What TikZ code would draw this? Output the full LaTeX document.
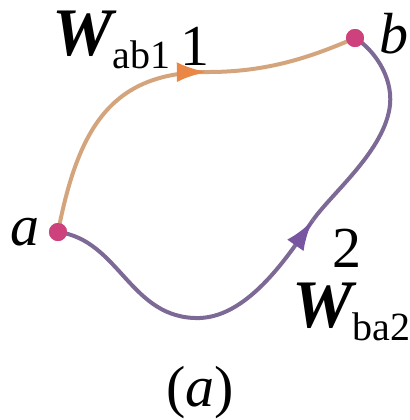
\documentclass[tikz,border=0pt]{standalone}
\usepackage{fontspec}
\setmainfont{Liberation Serif}
\usetikzlibrary{arrows.meta,decorations.markings}
\definecolor{orangeline}{RGB}{212,165,125}
\definecolor{orangetip}{RGB}{235,135,70}
\definecolor{purpleline}{RGB}{125,105,150}
\definecolor{purpletip}{RGB}{120,85,160}
\definecolor{dotcol}{RGB}{205,65,125}
\tikzset{
  pathone/.style={draw=orangeline, line width=2pt},
  pathtwo/.style={draw=purpleline, line width=2pt},
  endtip/.style={postaction={decorate}, decoration={markings,
      mark=at position 0.995 with {\arrow{Latex[length=15pt,width=10pt,color=#1,fill=#1]}}}},
  pointdot/.style={circle, fill=dotcol, minimum size=9pt, inner sep=0pt},
  lbl/.style={inner sep=0pt, font=\fontsize{29}{30}\selectfont},
  wlbl/.style={inner sep=0pt, font=\fontsize{34}{35}\selectfont\bfseries\itshape},
}
\newcommand{\subtxt}[1]{{\fontsize{20}{20}\selectfont\mdseries\upshape\raisebox{-6.5pt}{#1}}}
\begin{document}
\begin{tikzpicture}[x=0.5pt,y=-0.5pt]
\useasboundingbox (0,0) rectangle (410,420);
\coordinate (m1) at (208,72);
\coordinate (m2) at (313,220);
\coordinate (q2) at (390,105);
\coordinate (p2) at (200,318);
\node[pointdot] (a) at (58,232) {};
\node[pointdot] (b) at (355,38) {};
% path 1
\draw[pathone,endtip=orangetip] (a.center) .. controls (78,130) and (110,72) .. (m1);
\draw[pathone] (m1) .. controls (262,72) and (305,60) .. (b.center);
% path 2
\draw[pathtwo] (a.center) .. controls (120,240) and (130,320) .. (p2);
\draw[pathtwo,endtip=purpletip] (p2) .. controls (250,316) and (290,253) .. (m2);
\draw[pathtwo] (m2) .. controls (333,192) and (385,150) .. (q2);
\draw[pathtwo] (q2) .. controls (393,75) and (372,48) .. (b.center);
% points on top
\node[pointdot] at (a) {};
\node[pointdot] at (b) {};
% labels
\node[lbl, anchor=base west] (la) at (10,245) {\itshape a};
\node[lbl, anchor=base west] (lb) at (379,53) {\itshape b};
\node[lbl, anchor=base] (l1) at (195,65) {1};
\node[lbl, anchor=base] (l2) at (347,267) {2};
\node[wlbl, anchor=base west] (w1) at (52,55) {W\subtxt{ab1}};
\node[wlbl, anchor=base west] (w2) at (292,327) {W\subtxt{ba2}};
\node[lbl, anchor=base] (cap) at (200,406) {(\textit{a})};
\end{tikzpicture}
\end{document}
